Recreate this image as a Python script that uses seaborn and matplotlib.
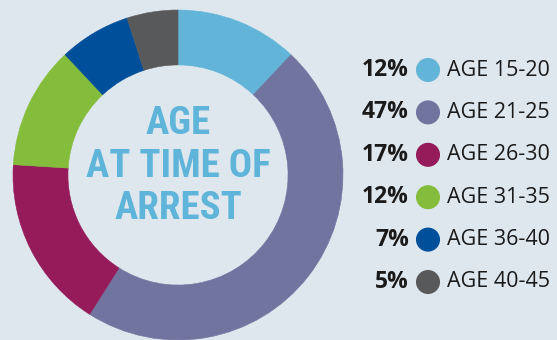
import matplotlib
matplotlib.use("Agg")
import matplotlib.pyplot as plt
import seaborn as sns
import pandas as pd

categories = ["AGE 15-20", "AGE 21-25", "AGE 26-30", "AGE 31-35", "AGE 36-40", "AGE 40-45"]
values = [12, 47, 17, 12, 7, 5]
pct_labels = ["12%", "47%", "17%", "12%", "7%", "5%"]
colors = ["#62b5d9", "#7274a0", "#951b5a", "#84bc3c", "#004f9a", "#58595b"]
center_title = ["AGE", "AT TIME OF", "ARREST"]

BG = "#dfe7ee"
W, H = 557, 340

sns.set_theme(style="white")
plt.rcParams["font.family"] = ["Open Sans", "DejaVu Sans"]

fig = plt.figure(figsize=(W / 100, H / 100), dpi=100, facecolor=BG)

# donut axes
cx, cy, r = 178, 175, 165
ax = fig.add_axes([(cx - r) / W, (H - cy - r) / H, 2 * r / W, 2 * r / H])
ax.set_facecolor(BG)
wedges, _ = ax.pie(values, colors=colors, startangle=90, counterclock=False, radius=1,
                   wedgeprops=dict(width=0.333, linewidth=0.4))
for w in wedges:
    w.set_edgecolor(w.get_facecolor())
ax.set_xlim(-1, 1)
ax.set_ylim(-1, 1)
ax.set_aspect("equal")
ax.axis("off")

for i, line in enumerate(center_title):
    ax.text(0, 0.31 - i * 0.258, line, ha="center", va="center", color="#5fb4d9",
            fontsize=28, fontweight="bold", family=["Liberation Sans Narrow", "Roboto Condensed", "DejaVu Sans"])

# legend axes (1 data unit = 1 px horizontally)
lx0, lx1 = 360, 557
ly0, ly1 = 48.8, 303.2
lax = fig.add_axes([lx0 / W, (H - ly1) / H, (lx1 - lx0) / W, (ly1 - ly0) / H])
lax.set_facecolor(BG)
df = pd.DataFrame({"cat": categories, "y": list(range(len(categories))), "x": [0] * len(categories)})
sns.scatterplot(data=df, x="x", y="y", hue="cat", palette=colors, s=300, linewidth=0,
                legend=False, ax=lax)
lax.set_xlim(-68, 129)
lax.set_ylim(5.5, -0.5)
for i, (p, c) in enumerate(zip(pct_labels, categories)):
    lax.text(-19, i, p, ha="right", va="center", fontsize=16.5, fontweight="bold", color="#1a1a1a")
    lax.text(19, i, c, ha="left", va="center", fontsize=15.5, color="#1a1a1a")
lax.axis("off")

fig.savefig("out.png", dpi=100, facecolor=BG)
